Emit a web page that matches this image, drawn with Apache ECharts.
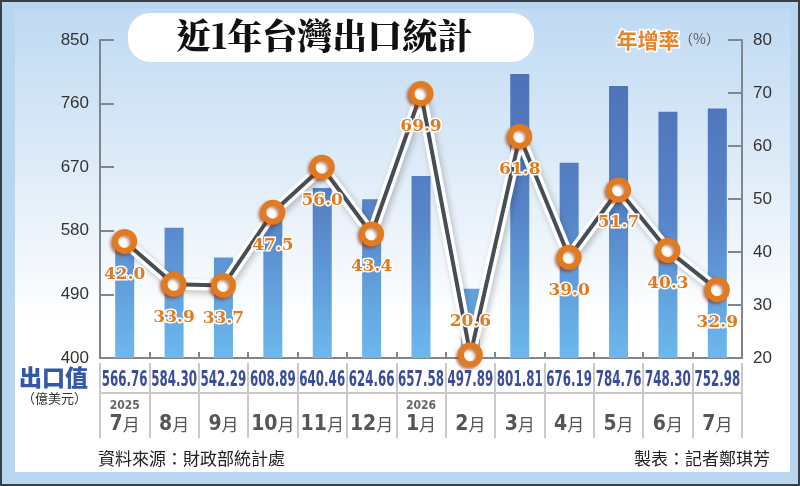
<!DOCTYPE html>
<html>
<head>
<meta charset="utf-8">
<script src="https://cdn.jsdelivr.net/npm/echarts@6/dist/echarts.min.js"></script>
<style>
  html, body { margin: 0; padding: 0; background: #fff; }
  #chart { width: 800px; height: 486px; }
</style>
</head>
<body>
<div id="chart"></div>
<script>
// 近1年台灣出口統計
var months = ['7月', '8月', '9月', '10月', '11月', '12月', '1月', '2月', '3月', '4月', '5月', '6月', '7月'];
var years = ['2025', '', '', '', '', '', '2026', '', '', '', '', '', ''];
var exportValues = [566.76, 584.30, 542.29, 608.89, 640.46, 624.66, 657.58, 497.89, 801.81, 676.19, 784.76, 748.30, 752.98]; // 億美元
var growthRates = [42.0, 33.9, 33.7, 47.5, 56.0, 43.4, 69.9, 20.6, 61.8, 39.0, 51.7, 40.3, 32.9]; // 年增率 %
var valueTicks = [400, 490, 580, 670, 760, 850];
var rateTicks = [20, 30, 40, 50, 60, 70, 80];

var myChart = echarts.init(document.getElementById('chart'));

var NARROW = '"Liberation Sans Narrow","DejaVu Sans Condensed",sans-serif';
var CJK = '"Noto Sans CJK TC","Noto Sans CJK SC",sans-serif';
var TITLE_FONT = '"Noto Serif CJK TC","Noto Sans CJK TC",serif';
var axisGray = '#80868e';
var cellGray = '#c9c9c9';
var orange = '#e27b20';

// 最低點的標籤放上面，其餘放下面
var minIdx = growthRates.indexOf(Math.min.apply(null, growthRates));
var lineData = growthRates.map(function (v, i) {
  if (i === minIdx) {
    return { value: v, label: { position: 'top', distance: 12 } };
  }
  return v;
});

var option = {
  animation: false,
  graphic: [
    { type: 'rect', z: -30, shape: { x: 0, y: 0, width: 800, height: 486 }, style: { fill: '#3b3f44' } },
    { type: 'rect', z: -29, shape: { x: 2, y: 2, width: 796, height: 482 }, style: { fill: '#b9d6f1' } },
    {
      type: 'rect', z: -28, shape: { x: 15, y: 9, width: 775, height: 463 },
      style: {
        fill: new echarts.graphic.LinearGradient(0, 0, 0, 1, [
          { offset: 0, color: '#bfdaf3' },
          { offset: 0.35, color: '#dfecf8' },
          { offset: 0.68, color: '#ffffff' },
          { offset: 1, color: '#ffffff' }
        ])
      }
    },
    { type: 'rect', z: 5, shape: { x: 128, y: 13, width: 406, height: 49, r: 22 }, style: { fill: '#ffffff' } },
    {
      type: 'text', z: 6, left: 176, top: 18,
      style: { text: '近1年台灣出口統計', font: '900 35px ' + TITLE_FONT, fill: '#111' }
    },
    {
      type: 'text', z: 6, left: 615, top: 28,
      style: { text: '年增率', font: 'bold 21px ' + CJK, fill: '#e8832a', stroke: '#fff', lineWidth: 3 }
    },
    {
      type: 'text', z: 6, left: 679, top: 32,
      style: { text: '（%）', font: '14px ' + CJK, fill: '#555' }
    },
    {
      type: 'text', z: 6, right: 712, top: 366,
      style: { text: '出口值', font: '900 23px ' + CJK, fill: '#3557a8', align: 'right' }
    },
    {
      type: 'text', z: 6, left: 22, top: 392,
      style: { text: '（億美元）', font: '13px ' + CJK, fill: '#333' }
    },
    {
      type: 'text', z: 6, left: 98, top: 450,
      style: { text: '資料來源：財政部統計處', font: '17px ' + CJK, fill: '#222' }
    },
    {
      type: 'text', z: 6, right: 30, top: 450,
      style: { text: '製表：記者鄭琪芳', font: '17px ' + CJK, fill: '#222' }
    }
  ],
  grid: { left: 100, right: 58, top: 40, bottom: 128 },
  xAxis: [
    {
      type: 'category',
      data: months,
      position: 'bottom',
      axisLine: { show: true, lineStyle: { color: axisGray, width: 2 } },
      axisTick: { show: true, inside: true, length: 6, lineStyle: { color: axisGray, width: 2 } },
      axisLabel: { show: false }
    },
    {
      // 出口值那一列的直線分隔
      type: 'category',
      data: months,
      position: 'bottom',
      offset: 5,
      axisLine: { show: false },
      axisTick: { show: true, interval: 0, length: 75, lineStyle: { color: cellGray, width: 2 } },
      axisLabel: { show: false }
    },
    {
      type: 'category',
      data: months,
      position: 'bottom',
      offset: 35,
      axisLine: { show: true, lineStyle: { color: cellGray, width: 2 } },
      axisTick: { show: false },
      axisLabel: {
        interval: 0,
        margin: 5,
        formatter: function (val, idx) {
          return '{y|' + (years[idx] || ' ') + '}\n{d|' + val.replace('月', '') + '}{m|月}';
        },
        rich: {
          y: { fontFamily: NARROW, fontWeight: 'bold', fontSize: 12, color: '#666', lineHeight: 15, align: 'center' },
          d: { fontFamily: NARROW, fontWeight: 'bold', fontSize: 21, color: '#555', lineHeight: 24 },
          m: { fontFamily: CJK, fontSize: 17, color: '#555', lineHeight: 24 }
        }
      }
    }
  ],
  yAxis: [
    {
      type: 'value',
      position: 'left',
      min: valueTicks[0],
      max: valueTicks[valueTicks.length - 1],
      interval: valueTicks[1] - valueTicks[0],
      axisLine: { show: true, lineStyle: { color: axisGray, width: 2 } },
      axisTick: { show: true, inside: true, length: 14, lineStyle: { color: axisGray, width: 2 } },
      axisLabel: { margin: 11, fontFamily: '"Liberation Sans",sans-serif', fontSize: 17, color: '#333' },
      splitLine: { show: false }
    },
    {
      type: 'value',
      position: 'right',
      min: rateTicks[0],
      max: rateTicks[rateTicks.length - 1],
      interval: rateTicks[1] - rateTicks[0],
      axisLine: { show: true, lineStyle: { color: axisGray, width: 2 } },
      axisTick: { show: true, inside: true, length: 14, lineStyle: { color: axisGray, width: 2 } },
      axisLabel: { margin: 11, fontFamily: '"Liberation Sans",sans-serif', fontSize: 17, color: '#333' },
      splitLine: { show: false }
    }
  ],
  series: [
    {
      name: '出口值',
      type: 'bar',
      xAxisIndex: 0,
      yAxisIndex: 0,
      barWidth: 19,
      z: 2,
      itemStyle: {
        color: new echarts.graphic.LinearGradient(0, 40, 0, 358, [
          { offset: 0, color: '#4b6db4' },
          { offset: 0.55, color: '#5784c8' },
          { offset: 1, color: '#6cb9ee' }
        ], true)
      },
      data: exportValues
    },
    {
      // 表格列：出口值數字，壓窄字寬
      name: '出口值表',
      type: 'custom',
      xAxisIndex: 0,
      yAxisIndex: 0,
      silent: true,
      z: 5,
      data: exportValues.map(function (v, i) { return [i, v]; }),
      renderItem: function (params, api) {
        var pt = api.coord([api.value(0), valueTicks[0]]);
        return {
          type: 'text',
          x: pt[0],
          y: pt[1] + 22,
          scaleX: 0.6,
          style: {
            text: api.value(1).toFixed(2),
            font: 'bold 22px ' + NARROW,
            fill: '#3a4c9a',
            align: 'center',
            verticalAlign: 'middle'
          }
        };
      }
    },
    {
      name: '年增率底',
      type: 'line',
      xAxisIndex: 0,
      yAxisIndex: 1,
      z: 3,
      symbol: 'none',
      silent: true,
      lineStyle: {
        color: '#ffffff', width: 11,
        shadowColor: 'rgba(0,0,0,0.22)', shadowBlur: 6, shadowOffsetX: 2, shadowOffsetY: 3
      },
      data: growthRates
    },
    {
      name: '年增率',
      type: 'line',
      xAxisIndex: 0,
      yAxisIndex: 1,
      z: 4,
      symbol: 'circle',
      symbolSize: 19,
      lineStyle: { color: '#474d56', width: 4 },
      itemStyle: {
        color: '#ffffff', borderColor: orange, borderWidth: 6,
        shadowColor: 'rgba(140,40,0,0.55)', shadowBlur: 3, shadowOffsetX: -2, shadowOffsetY: 2
      },
      label: {
        show: true,
        position: 'bottom',
        distance: 12,
        formatter: function (p) { return p.value.toFixed(1); },
        fontFamily: '"DejaVu Serif",serif',
        fontWeight: 'bold',
        fontSize: 17,
        color: orange,
        textBorderColor: '#ffffff',
        textBorderWidth: 3
      },
      data: lineData
    }
  ]
};
myChart.setOption(option, true);
</script>
</body>
</html>
